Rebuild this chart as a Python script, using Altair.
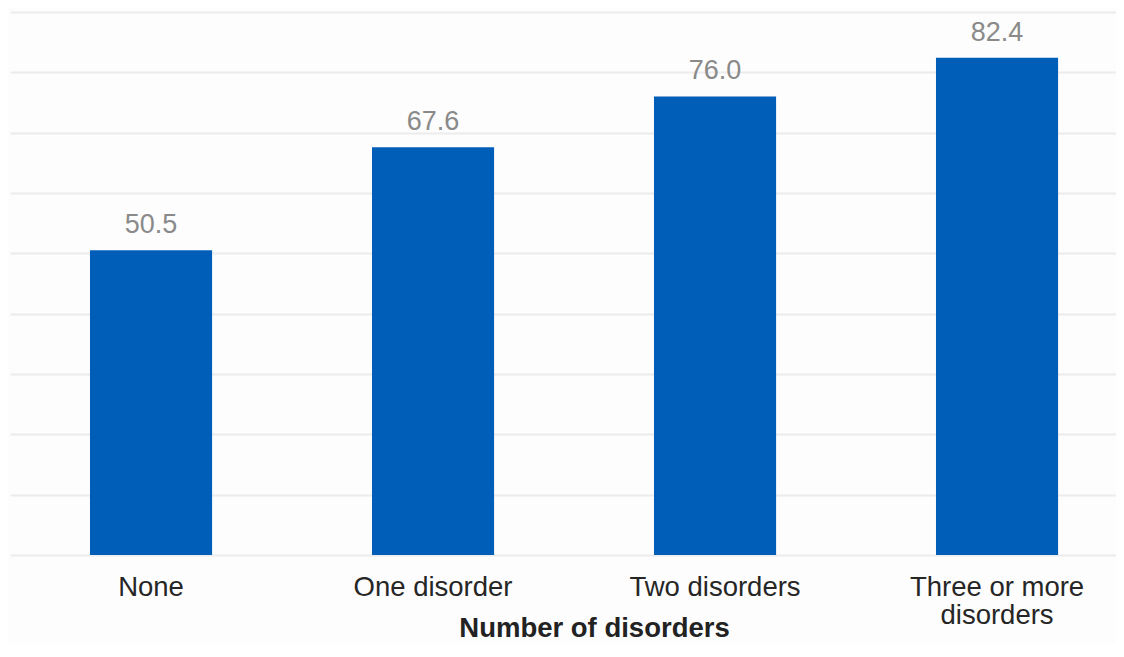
import altair as alt
import pandas as pd

categories = ["None", "One disorder", "Two disorders", "Three or more disorders"]
values = [50.5, 67.6, 76.0, 82.4]
labels = ["50.5", "67.6", "76.0", "82.4"]

df = pd.DataFrame({"cat": categories, "val": values, "lab": labels})

FONT = "Liberation Sans"

x = alt.X(
    "cat:N",
    sort=categories,
    scale=alt.Scale(paddingInner=0.567, paddingOuter=0.2445, align=0.58),
    axis=alt.Axis(
        title="Number of disorders",
        titleFont=FONT,
        titleFontSize=27.5,
        titleFontWeight="bold",
        titleColor="#222222",
        titleX=584,
        titleY=81,
        titleAlign="center",
        titleBaseline="alphabetic",
        labelFont=FONT,
        labelFontSize=27.5,
        labelColor="#262626",
        labelAngle=0,
        labelBaseline="alphabetic",
        labelPadding=40,
        labelLineHeight=28,
        labelExpr="datum.label == 'Three or more disorders' ? ['Three or more', 'disorders'] : datum.label",
        ticks=False,
        tickSize=0,
        domain=False,
        grid=False,
    ),
)

y = alt.Y(
    "val:Q",
    scale=alt.Scale(domain=[0, 90]),
    axis=alt.Axis(
        title=None,
        labels=False,
        ticks=False,
        domain=False,
        grid=True,
        values=[0, 10, 20, 30, 40, 50, 60, 70, 80, 90],
        gridColor="#ececec",
        gridWidth=2,
    ),
)

bars = alt.Chart(df).mark_bar(color="#005EB8").encode(x=x, y=y)

text = alt.Chart(df).mark_text(
    font=FONT, fontSize=27, color="#8a8a8a", baseline="alphabetic", dy=-17
).encode(x=alt.X("cat:N", sort=categories), y="val:Q", text="lab:N")

chart = (
    alt.layer(bars, text)
    .properties(
        width=1106,
        height=543,
        background="#fdfdfd",
        padding={"left": 2, "top": 4, "right": 0, "bottom": 89},
        autosize=alt.AutoSizeParams(type="none"),
    )
    .configure_view(stroke=None)
)

chart.save("out.html", embed_options={"renderer": "svg", "actions": False})
